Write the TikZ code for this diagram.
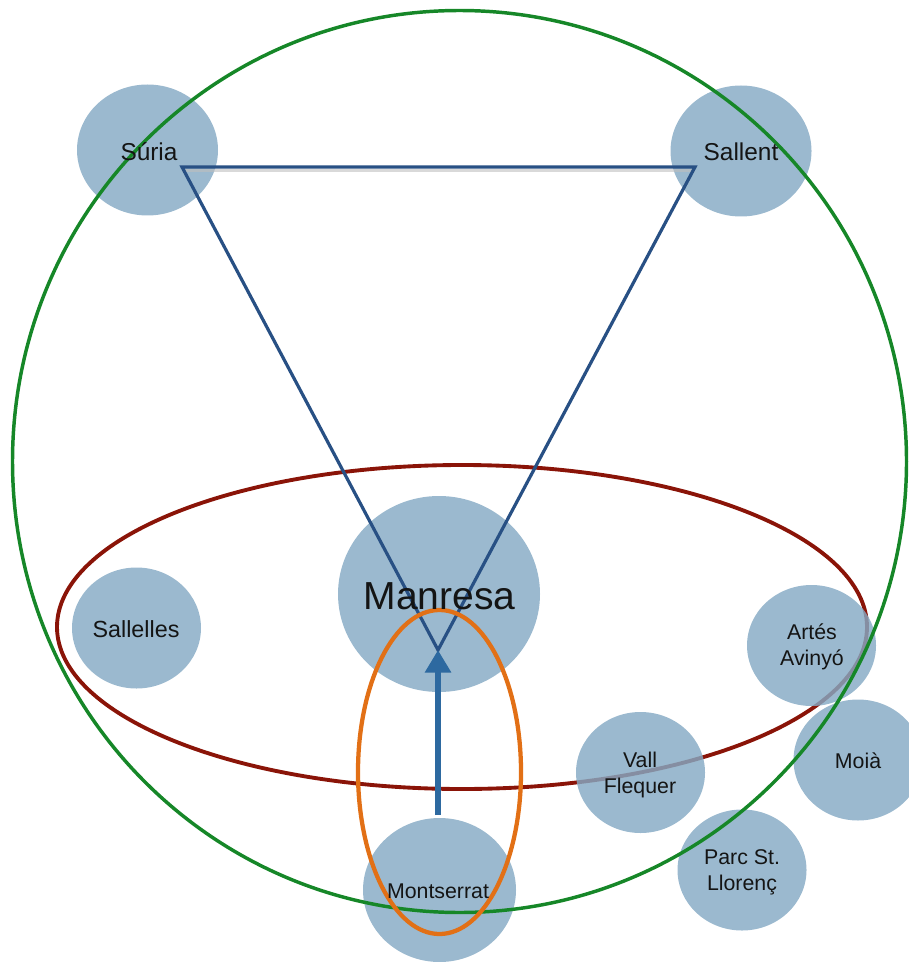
\documentclass[tikz,border=0pt]{standalone}
\usepackage{fontspec}
\setmainfont{Liberation Sans}
\usetikzlibrary{arrows.meta,shapes.geometric}
\definecolor{townfill}{RGB}{133,170,196}
\definecolor{tri}{RGB}{40,80,132}
\definecolor{arr}{RGB}{45,105,160}
\definecolor{grn}{RGB}{22,135,40}
\definecolor{dred}{RGB}{138,20,8}
\definecolor{orng}{RGB}{226,112,22}
\tikzset{
  town/.style={ellipse, fill=townfill, fill opacity=0.82, inner sep=0pt, minimum width=129*0.75pt, minimum height=121*0.75pt},
  lbl/.style={font=\fontsize{16}{19.5}\selectfont, align=center, text=black!92, inner sep=0pt},
  biglbl/.style={lbl, font=\fontsize{18.3}{22}\selectfont},
  ring/.style={line width=2.6pt},
  triline/.style={draw=tri, line width=2.4pt, line join=miter},
  trishadow/.style={draw=black!25, line width=2.2pt, opacity=0.6}
}
\begin{document}
\begin{tikzpicture}[x=0.75pt,y=-0.75pt]
\useasboundingbox (0,0) rectangle (908,962);
% red ellipse (under towns)
\draw[dred, line width=2.9pt] (462,627) ellipse [x radius=405, y radius=162];
% towns
\node[town, minimum width=141*0.75pt, minimum height=131*0.75pt] (suria) at (147.5,150) {};
\node[town, minimum width=141*0.75pt, minimum height=131*0.75pt] (sallent) at (741,151) {};
\node[town, minimum width=202*0.75pt, minimum height=196*0.75pt] (manresa) at (439,594) {};
\node[town] (sallelles) at (136.5,628) {};
\node[town] (artes) at (811.5,645.5) {};
\node[town] (moia) at (858,760) {};
\node[town] (vall) at (640.5,772.5) {};
\node[town] (parc) at (742,870) {};
\node[town, minimum width=153*0.75pt, minimum height=144*0.75pt] (montserrat) at (439.5,890) {};
% green circle
\draw[grn, ring] (459.5,461.5) ellipse [x radius=447, y radius=451];
% triangle
\coordinate (vs) at (182,167);
\coordinate (vl) at (695,167);
\coordinate (vm) at (438,650);
\coordinate (mtop) at (438,815);
\draw[trishadow] ([yshift=-2.5pt]vs) -- ([yshift=-2.5pt]vl);
\draw[triline] (vs) -- (vl) -- (vm) -- cycle;
% arrow
\draw[arr, line width=4pt, -{Triangle[length=17pt, width=19pt]}] (mtop) -- (vm);
% orange ellipse
\draw[orng, line width=3.2pt] (439.5,772) ellipse [x radius=81.5, y radius=162];
% labels
\node[biglbl] (tsuria) at (149,152) {Súria};
\node[biglbl] (tsallent) at (741,152) {Sallent};
\node[lbl, font=\fontsize{29.3}{34}\selectfont] (tmanresa) at (439.5,596) {Manresa};
\node[lbl, font=\fontsize{17.5}{21}\selectfont] (tsallelles) at (136,629) {Sallelles};
\node[lbl] (tartes) at (812,647) {Artés\\Avinyó};
\node[lbl] (tmoia) at (858,761) {Moià};
\node[lbl] (tvall) at (640,775) {Vall\\Flequer};
\node[lbl] (tparc) at (742,872) {Parc St.\\Llorenç};
\node[lbl] (tmont) at (438,891) {Montserrat};
\end{tikzpicture}
\end{document}
